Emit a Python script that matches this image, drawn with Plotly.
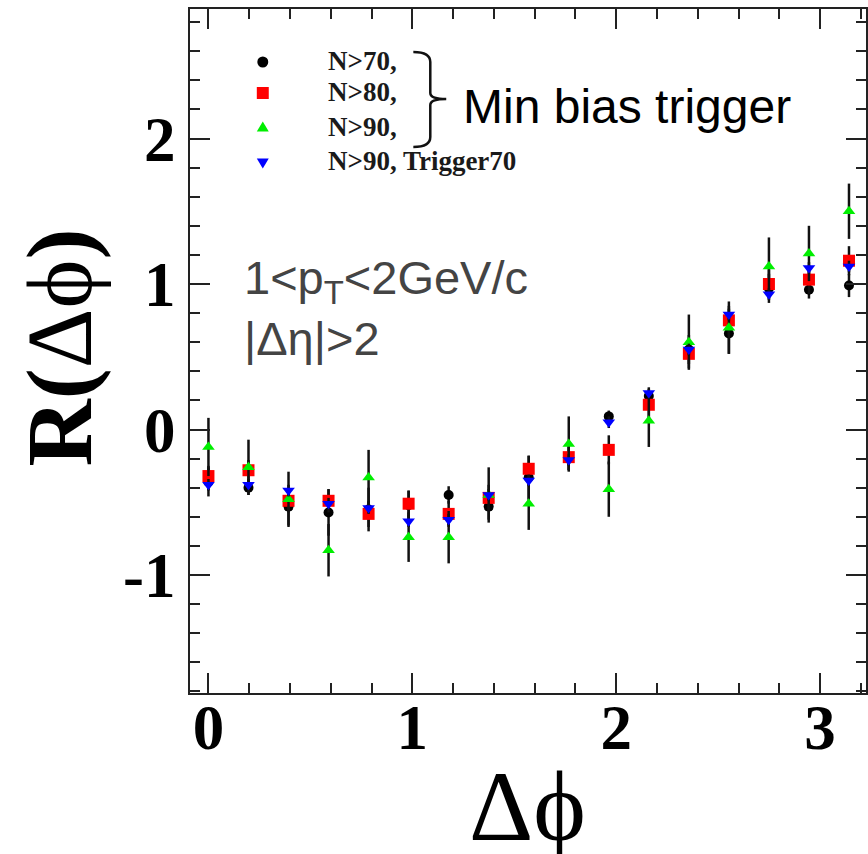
import math
import plotly.graph_objects as go

# Delta-phi bin centres: 17 bins of width pi/16 from 0 to pi
bin_index = list(range(17))
dphi = [i * math.pi / 16 for i in bin_index]

# R(dphi) and statistical errors for each multiplicity selection
r_n70 = [-0.36, -0.40, -0.53, -0.57, -0.55, -0.52, -0.45, -0.53, -0.33, -0.20,
         0.09, 0.23, 0.55, 0.66, 0.97, 0.96, 0.99]
e_n70 = [0.10, 0.05, 0.13, 0.16, 0.15, 0.10, 0.06, 0.09, 0.15, 0.08,
         0.04, 0.05, 0.10, 0.14, 0.10, 0.06, 0.08]

r_n80 = [-0.32, -0.28, -0.49, -0.49, -0.58, -0.51, -0.58, -0.47, -0.27, -0.19,
         -0.14, 0.17, 0.52, 0.75, 1.00, 1.03, 1.16]
e_n80 = [0.07, 0.07, 0.08, 0.08, 0.09, 0.09, 0.09, 0.09, 0.09, 0.09,
         0.10, 0.09, 0.10, 0.10, 0.10, 0.10, 0.10]

r_n90 = [-0.12, -0.26, -0.48, -0.83, -0.33, -0.74, -0.74, -0.45, -0.51, -0.10,
         -0.41, 0.06, 0.60, 0.70, 1.12, 1.21, 1.50]
e_n90 = [0.20, 0.19, 0.19, 0.18, 0.19, 0.17, 0.18, 0.19, 0.18, 0.19,
         0.19, 0.18, 0.19, 0.18, 0.20, 0.19, 0.19]

r_n90_t70 = [-0.38, -0.38, -0.42, -0.51, -0.54, -0.63, -0.62, -0.45, -0.35, -0.21,
             0.05, 0.25, 0.55, 0.79, 0.93, 1.11, 1.12]
e_n90_t70 = [0.04] * 17

legend_labels = ["N&gt;70,", "N&gt;80,", "N&gt;90,", "N&gt;90, Trigger70"]
x_ticks = [0, 1, 2, 3]
y_ticks = [-1, 0, 1, 2]
y_ticktext = ["-1", "0", "1", "2"]

series = [
    (legend_labels[0], r_n70, e_n70, "circle", "#000000", 10),
    (legend_labels[1], r_n80, e_n80, "square", "#ff0000", 12),
    (legend_labels[2], r_n90, e_n90, "triangle-up", "#00ee00", 11),
    (legend_labels[3], r_n90_t70, e_n90_t70, "triangle-down", "#0000ff", 11),
]

W, H = 868, 854
L, R, T, B = 190, 0, 9, 161
PW, PH = W - L - R, H - T - B


def px(x):
    return (x - L) / PW


def py(y):
    return (H - B - y) / PH


fig = go.Figure()
for name, yv, ev, sym, col, size in series:
    fig.add_trace(go.Scatter(
        x=dphi, y=yv, mode="markers", name=name,
        marker=dict(symbol=sym, color=col, size=size, line=dict(width=0)),
        error_y=dict(type="data", array=ev, color="#111111", thickness=2.5, width=0),
    ))

serif = "Liberation Serif"
sans = "Liberation Sans"
axis_common = dict(
    showline=True, linecolor="#222222", linewidth=2, mirror="ticks",
    ticks="inside", ticklen=20, tickwidth=2, tickcolor="#222222",
    showgrid=False, zeroline=False,
    tickfont=dict(family=serif, size=63, color="#000000", weight=700),
)
minor_ticks = dict(dtick=0.2, tick0=0, ticks="inside", ticklen=10,
                   tickwidth=2, tickcolor="#222222")

fig.update_xaxes(range=[-0.0905, 3.225], tickvals=x_ticks, minor=minor_ticks,
                 ticklabelstandoff=-22, **axis_common)
fig.update_yaxes(range=[-1.811, 2.89], tickvals=y_ticks, ticktext=y_ticktext,
                 minor=minor_ticks, **axis_common)

annotations = [
    dict(text="<b>R(</b>Δϕ<b>)</b>", x=px(60), y=py(347), textangle=-90,
         font=dict(family=serif, size=93, color="#000000")),
    dict(text="Δϕ", x=px(528), y=py(806),
         font=dict(family=serif, size=100, color="#000000")),
    dict(text="Min bias trigger", x=px(462), y=py(107), xanchor="left",
         font=dict(family=sans, size=48, color="#000000")),
    dict(text="1&lt;p<sub>T</sub>&lt;2GeV/c", x=px(242), y=py(281), xanchor="left",
         font=dict(family=sans, size=47, color="#444444")),
    dict(text="|Δη|&gt;2", x=px(242), y=py(338), xanchor="left",
         font=dict(family=sans, size=47, color="#444444")),
]

# hand-placed key: symbol centres (px) and labels in bold serif
key_x, key_text_x = 263, 326
key_rows = [62, 93, 128, 162]
for label, row in zip(legend_labels, key_rows):
    annotations.append(dict(text=label, x=px(key_text_x), y=py(row - 1), xanchor="left",
                            font=dict(family=serif, size=27, color="#1a1a1a", weight=700)))

for a in annotations:
    a.update(xref="paper", yref="paper", showarrow=False)
    a.setdefault("xanchor", "center")
    a.setdefault("yanchor", "middle")

shapes = []
# key symbols
r = 5.5
shapes.append(dict(type="circle", x0=px(key_x - r), x1=px(key_x + r),
                   y0=py(key_rows[0] + r), y1=py(key_rows[0] - r),
                   fillcolor="#000000", line=dict(width=0)))
s = 6
shapes.append(dict(type="rect", x0=px(key_x - s), x1=px(key_x + s),
                   y0=py(key_rows[1] + s), y1=py(key_rows[1] - s),
                   fillcolor="#ff0000", line=dict(width=0)))
t = 6
yc = key_rows[2]
shapes.append(dict(type="path",
                   path=f"M {px(key_x - t)},{py(yc + t * 0.6)} L {px(key_x + t)},{py(yc + t * 0.6)} "
                        f"L {px(key_x)},{py(yc - t * 1.1)} Z",
                   fillcolor="#00ee00", line=dict(width=0)))
yc = key_rows[3]
shapes.append(dict(type="path",
                   path=f"M {px(key_x - t)},{py(yc - t * 0.6)} L {px(key_x + t)},{py(yc - t * 0.6)} "
                        f"L {px(key_x)},{py(yc + t * 1.1)} Z",
                   fillcolor="#0000ff", line=dict(width=0)))

# curly brace grouping the min-bias selections
bx0, bx1, bx2, ytop, ymid, ybot = 414, 431, 447, 52, 99, 147
brace = (
    f"M {px(bx0)},{py(ytop)} Q {px(bx1)},{py(ytop)} {px(bx1)},{py(ytop + 10)} "
    f"L {px(bx1)},{py(ymid - 6)} Q {px(bx1)},{py(ymid)} {px(bx2)},{py(ymid)} "
    f"Q {px(bx1)},{py(ymid)} {px(bx1)},{py(ymid + 6)} "
    f"L {px(bx1)},{py(ybot - 10)} Q {px(bx1)},{py(ybot)} {px(bx0)},{py(ybot)}"
)
shapes.append(dict(type="path", path=brace, line=dict(color="#111111", width=2.5)))
for sh in shapes:
    sh.update(xref="paper", yref="paper")

fig.update_layout(
    width=W, height=H,
    margin=dict(l=L, r=R, t=T, b=B),
    paper_bgcolor="white", plot_bgcolor="white",
    annotations=annotations,
    shapes=shapes,
    showlegend=False,
)

fig.write_html("out.html")
